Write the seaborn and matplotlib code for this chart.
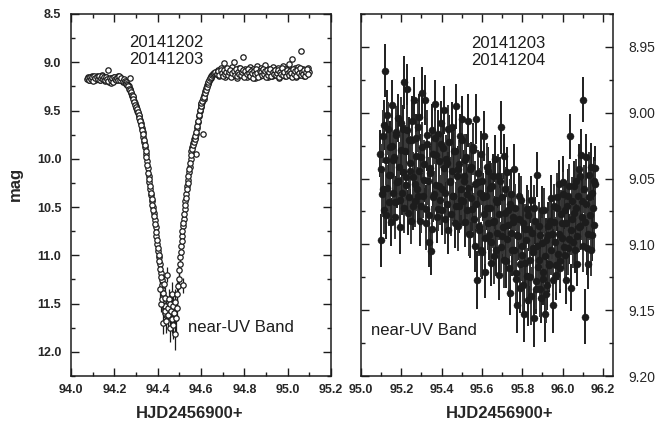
import matplotlib
matplotlib.use("Agg")
import matplotlib.pyplot as plt
from matplotlib.ticker import MultipleLocator, FormatStrFormatter
import seaborn as sns

# ---------------- left panel data (20141202/20141203) ----------------
pre_hjd = [94.075, 94.080, 94.085, 94.090, 94.095, 94.100, 94.105, 94.110, 94.115, 94.120,
           94.125, 94.130, 94.135, 94.140, 94.145, 94.150, 94.155, 94.160, 94.165, 94.170,
           94.175, 94.180, 94.185, 94.190, 94.195, 94.200, 94.205, 94.210, 94.215, 94.220,
           94.225, 94.230, 94.235, 94.240, 94.245]
pre_mag = [9.17, 9.15, 9.18, 9.16, 9.14, 9.17, 9.15, 9.18, 9.16, 9.14,
           9.17, 9.15, 9.18, 9.16, 9.13, 9.17, 9.19, 9.15, 9.18, 9.08,
           9.20, 9.17, 9.21, 9.16, 9.19, 9.15, 9.18, 9.16, 9.14, 9.17,
           9.15, 9.18, 9.17, 9.20, 9.19]
pre2_hjd = [94.078, 94.083, 94.088, 94.093, 94.098, 94.103, 94.108, 94.113, 94.118, 94.123,
            94.128, 94.133, 94.138, 94.143, 94.148, 94.153, 94.158, 94.163, 94.168, 94.173,
            94.178, 94.183, 94.188, 94.193, 94.198, 94.203, 94.208, 94.213, 94.218, 94.223,
            94.228, 94.233, 94.238, 94.243]
pre2_mag = [9.162, 9.181, 9.148, 9.173, 9.157, 9.189, 9.141, 9.168, 9.152, 9.177,
            9.146, 9.184, 9.163, 9.138, 9.171, 9.155, 9.186, 9.149, 9.176, 9.192,
            9.158, 9.183, 9.167, 9.204, 9.153, 9.174, 9.188, 9.161, 9.179, 9.147,
            9.185, 9.166, 9.193, 9.178]

desc_hjd = [94.250, 94.254, 94.258, 94.262, 94.266, 94.270, 94.272, 94.274, 94.278, 94.282,
            94.286, 94.290, 94.294, 94.298, 94.302, 94.306, 94.310, 94.314, 94.318, 94.322,
            94.326, 94.330, 94.334, 94.338, 94.342, 94.346, 94.350, 94.354, 94.358, 94.362,
            94.366, 94.370, 94.374, 94.378, 94.382, 94.386, 94.390, 94.394, 94.398, 94.402,
            94.406, 94.410, 94.414, 94.418, 94.422, 94.426, 94.430, 94.434, 94.438]
desc_mag = [9.19, 9.21, 9.22, 9.24, 9.25, 9.28, 9.16, 9.29, 9.32, 9.35,
            9.36, 9.40, 9.42, 9.45, 9.47, 9.50, 9.53, 9.56, 9.60, 9.63,
            9.68, 9.72, 9.77, 9.83, 9.88, 9.95, 10.02, 10.10, 10.18, 10.24,
            10.31, 10.38, 10.44, 10.50, 10.56, 10.63, 10.71, 10.80, 10.88, 10.96,
            11.02, 11.09, 11.18, 11.26, 11.35, 11.42, 11.50, 11.56, 11.62]
desc_err = [0.01, 0.01, 0.01, 0.01, 0.01, 0.01, 0.01, 0.01, 0.01, 0.01,
            0.01, 0.01, 0.01, 0.01, 0.01, 0.012, 0.012, 0.012, 0.012, 0.012,
            0.015, 0.015, 0.015, 0.015, 0.015, 0.018, 0.018, 0.02, 0.02, 0.02,
            0.022, 0.025, 0.025, 0.028, 0.03, 0.03, 0.032, 0.035, 0.04, 0.04,
            0.045, 0.05, 0.05, 0.055, 0.06, 0.065, 0.07, 0.075, 0.08]
desc2_hjd = [94.252, 94.256, 94.260, 94.264, 94.268, 94.272, 94.276, 94.280, 94.284, 94.288,
             94.292, 94.296, 94.300, 94.304, 94.308, 94.312, 94.316, 94.320, 94.324, 94.328,
             94.332, 94.336, 94.340, 94.344, 94.348, 94.352, 94.356, 94.360, 94.364, 94.368,
             94.372, 94.376, 94.380, 94.384, 94.388, 94.392, 94.396, 94.400, 94.404, 94.408,
             94.412, 94.416, 94.420, 94.424, 94.428, 94.432, 94.436]
desc2_mag = [9.205, 9.222, 9.238, 9.251, 9.272, 9.286, 9.312, 9.338, 9.352, 9.384,
             9.412, 9.438, 9.462, 9.488, 9.518, 9.548, 9.582, 9.612, 9.652, 9.702,
             9.748, 9.806, 9.858, 9.918, 9.986, 10.062, 10.142, 10.214, 10.278, 10.352,
             10.412, 10.476, 10.532, 10.594, 10.672, 10.758, 10.842, 10.922, 10.996, 11.062,
             11.142, 11.224, 11.312, 11.388, 11.462, 11.528, 11.594]

min_hjd = [94.412, 94.416, 94.420, 94.424, 94.428, 94.432, 94.436, 94.440, 94.443, 94.446,
           94.449, 94.452, 94.455, 94.458, 94.461, 94.464, 94.467, 94.470, 94.473, 94.476,
           94.479, 94.482, 94.485, 94.488, 94.491, 94.494, 94.497, 94.515]
min_mag = [11.35, 11.50, 11.45, 11.70, 11.30, 11.58, 11.44, 11.68, 11.20, 11.55,
           11.62, 11.45, 11.75, 11.50, 11.58, 11.40, 11.66, 11.52, 11.72, 11.60,
           11.82, 11.48, 11.65, 11.40, 11.55, 11.32, 11.25, 11.31]
min_err = [0.08, 0.09, 0.10, 0.12, 0.10, 0.12, 0.11, 0.12, 0.08, 0.12,
           0.14, 0.10, 0.15, 0.12, 0.13, 0.12, 0.14, 0.13, 0.15, 0.14,
           0.16, 0.13, 0.15, 0.12, 0.13, 0.10, 0.10, 0.08]

asc_hjd = [94.500, 94.504, 94.508, 94.512, 94.516, 94.520, 94.524, 94.528, 94.532, 94.536,
           94.540, 94.544, 94.548, 94.552, 94.556, 94.560, 94.564, 94.568, 94.572, 94.576,
           94.578, 94.582, 94.586, 94.590, 94.594, 94.598, 94.602, 94.606, 94.610, 94.612,
           94.616, 94.620, 94.624, 94.628, 94.632, 94.636, 94.640, 94.644, 94.648, 94.652,
           94.656, 94.660, 94.664, 94.668]
asc_mag = [11.15, 11.02, 10.90, 10.80, 10.70, 10.62, 10.52, 10.44, 10.36, 10.28,
           10.22, 10.14, 10.08, 10.00, 9.92, 9.88, 9.84, 9.80, 9.78, 9.95,
           9.74, 9.68, 9.62, 9.56, 9.50, 9.46, 9.43, 9.41, 9.74, 9.38,
           9.34, 9.30, 9.27, 9.24, 9.21, 9.19, 9.17, 9.16, 9.14, 9.13,
           9.12, 9.11, 9.11, 9.10]
asc_err = [0.08, 0.07, 0.065, 0.06, 0.055, 0.05, 0.045, 0.04, 0.04, 0.035,
           0.032, 0.03, 0.028, 0.025, 0.025, 0.022, 0.02, 0.02, 0.02, 0.02,
           0.018, 0.018, 0.016, 0.015, 0.015, 0.015, 0.015, 0.014, 0.014, 0.013,
           0.012, 0.012, 0.012, 0.012, 0.011, 0.011, 0.011, 0.01, 0.01, 0.01,
           0.01, 0.01, 0.01, 0.01]
asc2_hjd = [94.502, 94.506, 94.510, 94.514, 94.518, 94.522, 94.526, 94.530, 94.534, 94.538,
            94.542, 94.546, 94.550, 94.554, 94.558, 94.562, 94.566, 94.570, 94.574, 94.578,
            94.582, 94.586, 94.590, 94.594, 94.598, 94.602, 94.606, 94.610, 94.614, 94.618,
            94.622, 94.626, 94.630, 94.634, 94.638, 94.642, 94.646, 94.650, 94.654, 94.658,
            94.662, 94.666]
asc2_mag = [11.092, 10.964, 10.853, 10.748, 10.662, 10.574, 10.483, 10.402, 10.318, 10.252,
            10.183, 10.108, 10.041, 9.962, 9.903, 9.862, 9.824, 9.792, 9.763, 9.718,
            9.662, 9.604, 9.542, 9.493, 9.452, 9.421, 9.398, 9.372, 9.357, 9.318,
            9.286, 9.254, 9.226, 9.203, 9.181, 9.164, 9.152, 9.136, 9.124, 9.116,
            9.108, 9.104]

post_hjd = [94.672, 94.677, 94.682, 94.687, 94.692, 94.697, 94.702, 94.707, 94.712, 94.717,
            94.722, 94.727, 94.732, 94.737, 94.742, 94.747, 94.752, 94.757, 94.762, 94.767,
            94.772, 94.777, 94.782, 94.787, 94.792, 94.797, 94.802, 94.807, 94.812, 94.817,
            94.822, 94.827, 94.832, 94.837, 94.842, 94.847, 94.852, 94.857, 94.862, 94.867,
            94.872, 94.877, 94.882, 94.887, 94.892, 94.897, 94.902, 94.907, 94.912, 94.917,
            94.922, 94.927, 94.932, 94.937, 94.942, 94.947, 94.952, 94.957, 94.962, 94.967,
            94.972, 94.977, 94.982, 94.987, 94.992, 94.997, 95.002, 95.007, 95.012, 95.017,
            95.022, 95.027, 95.032, 95.037, 95.042, 95.047, 95.052, 95.057, 95.062, 95.067,
            95.072, 95.077, 95.082, 95.087, 95.092, 95.097]
post_mag = [9.12, 9.08, 9.14, 9.10, 9.06, 9.13, 9.09, 9.01, 9.15, 9.11,
            9.07, 9.12, 9.09, 9.14, 9.05, 9.11, 9.00, 9.13, 9.08, 9.16,
            9.10, 9.06, 9.12, 9.09, 8.95, 9.14, 9.07, 9.11, 9.15, 9.08,
            9.12, 9.05, 9.10, 9.13, 9.07, 9.16, 9.09, 9.04, 9.12, 9.10,
            9.14, 9.06, 9.11, 9.08, 9.13, 9.03, 9.10, 9.15, 9.07, 9.12,
            9.09, 9.14, 9.05, 9.11, 9.08, 9.13, 9.10, 9.06, 9.16, 9.09,
            9.12, 9.04, 9.10, 9.14, 9.07, 9.11, 9.09, 9.02, 9.13, 9.08,
            8.97, 9.12, 9.06, 9.15, 9.10, 9.05, 9.13, 9.08, 8.88, 9.11,
            9.07, 9.14, 9.09, 9.12, 9.06, 9.10]
post2_hjd = [94.675, 94.680, 94.685, 94.690, 94.695, 94.700, 94.705, 94.710, 94.715, 94.720,
             94.725, 94.730, 94.735, 94.740, 94.745, 94.750, 94.755, 94.760, 94.765, 94.770,
             94.775, 94.780, 94.785, 94.790, 94.795, 94.800, 94.805, 94.810, 94.815, 94.820,
             94.825, 94.830, 94.835, 94.840, 94.845, 94.850, 94.855, 94.860, 94.865, 94.870,
             94.875, 94.880, 94.885, 94.890, 94.895, 94.900, 94.905, 94.910, 94.915, 94.920,
             94.925, 94.930, 94.935, 94.940, 94.945, 94.950, 94.955, 94.960, 94.965, 94.970,
             94.975, 94.980, 94.985, 94.990, 94.995, 95.000, 95.005, 95.010, 95.015, 95.020,
             95.025, 95.030, 95.035, 95.040, 95.045, 95.050, 95.055, 95.060, 95.065, 95.070,
             95.075, 95.080, 95.085, 95.090, 95.095]
post2_mag = [9.118, 9.094, 9.132, 9.076, 9.109, 9.147, 9.083, 9.121, 9.098, 9.064,
             9.136, 9.103, 9.079, 9.154, 9.112, 9.087, 9.128, 9.069, 9.141, 9.096,
             9.117, 9.058, 9.133, 9.104, 9.081, 9.148, 9.092, 9.126, 9.073, 9.115,
             9.139, 9.086, 9.107, 9.161, 9.095, 9.124, 9.067, 9.113, 9.149, 9.088,
             9.102, 9.135, 9.074, 9.119, 9.091, 9.157, 9.083, 9.127, 9.106, 9.069,
             9.142, 9.098, 9.121, 9.077, 9.134, 9.109, 9.085, 9.152, 9.096, 9.118,
             9.063, 9.129, 9.101, 9.144, 9.079, 9.112, 9.137, 9.087, 9.108, 9.152,
             9.072, 9.123, 9.095, 9.141, 9.081, 9.116, 9.058, 9.132, 9.099, 9.126,
             9.084, 9.147, 9.106, 9.073, 9.118]

# ---------------- right panel data (20141203/20141204) ----------------
right_hjd = [95.095, 95.101, 95.107, 95.113, 95.119, 95.125, 95.131, 95.137, 95.143, 95.149,
             95.155, 95.161, 95.167, 95.173, 95.179, 95.185, 95.191, 95.197, 95.203, 95.209,
             95.215, 95.221, 95.227, 95.233, 95.239, 95.245, 95.251, 95.257, 95.263, 95.269,
             95.275, 95.281, 95.287, 95.293, 95.299, 95.305, 95.311, 95.317, 95.323, 95.329,
             95.335, 95.341, 95.347, 95.353, 95.359, 95.365, 95.371, 95.377, 95.383, 95.389,
             95.395, 95.401, 95.407, 95.413, 95.419, 95.425, 95.431, 95.437, 95.443, 95.449,
             95.455, 95.461, 95.467, 95.473, 95.479, 95.485, 95.491, 95.497, 95.503, 95.509,
             95.515, 95.521, 95.527, 95.533, 95.539, 95.545, 95.551, 95.557, 95.563, 95.569,
             95.575, 95.581, 95.587, 95.593, 95.599, 95.605, 95.611, 95.617, 95.623, 95.629,
             95.635, 95.641, 95.647, 95.653, 95.659, 95.665, 95.671, 95.677, 95.683, 95.689,
             95.695, 95.701, 95.707, 95.713, 95.719, 95.725, 95.731, 95.737, 95.743, 95.749,
             95.755, 95.761, 95.767, 95.773, 95.779, 95.785, 95.791, 95.797, 95.803, 95.809,
             95.815, 95.821, 95.827, 95.833, 95.839, 95.845, 95.851, 95.857, 95.863, 95.869,
             95.875, 95.881, 95.887, 95.893, 95.899, 95.905, 95.911, 95.917, 95.923, 95.929,
             95.935, 95.941, 95.947, 95.953, 95.959, 95.965, 95.971, 95.977, 95.983, 95.989,
             95.995, 96.001, 96.007, 96.013, 96.019, 96.025, 96.031, 96.037, 96.043, 96.049,
             96.055, 96.061, 96.067, 96.073, 96.079, 96.085, 96.091, 96.097, 96.103, 96.109,
             96.115, 96.121, 96.127, 96.133, 96.139, 96.145, 96.151, 96.157, 96.163]
right_mag = [9.031, 9.097, 9.058, 9.009, 8.968, 9.078, 9.002, 9.047, 9.026, 9.083,
             8.994, 9.036, 9.068, 9.017, 9.053, 9.004, 9.087, 9.028, 9.061, 9.012,
             8.977, 9.049, 8.982, 9.076, 9.021, 9.044, 9.006, 9.071, 8.990, 9.054,
             9.019, 9.063, 9.003, 9.082, 9.034, 8.985, 9.051, 8.990, 9.073, 9.024,
             9.098, 9.042, 9.105, 9.013, 9.064, 8.993, 9.032, 9.079, 9.016, 9.056,
             9.008, 9.074, 9.027, 8.998, 9.061, 9.038, 9.089, 9.022, 9.052, 9.011,
             9.063, 9.029, 9.084, 8.995, 9.043, 9.071, 9.018, 9.066, 9.005, 9.048,
             9.083, 9.034, 9.062, 9.006, 9.092, 9.041, 9.073, 9.026, 9.101, 9.005,
             9.127, 9.053, 9.086, 9.031, 9.106, 9.064, 9.018, 9.121, 9.072, 9.044,
             9.093, 9.057, 9.114, 9.048, 9.082, 9.035, 9.104, 9.068, 9.123, 9.052,
             9.011, 9.094, 9.033, 9.076, 9.113, 9.045, 9.085, 9.137, 9.062, 9.104,
             9.079, 9.043, 9.122, 9.146, 9.094, 9.063, 9.133, 9.101, 9.084, 9.153,
             9.114, 9.073, 9.142, 9.088, 9.125, 9.066, 9.103, 9.156, 9.082, 9.134,
             9.047, 9.112, 9.093, 9.141, 9.074, 9.126, 9.153, 9.097, 9.131, 9.086,
             9.116, 9.065, 9.092, 9.146, 9.083, 9.123, 9.072, 9.107, 9.054, 9.118,
             9.084, 9.053, 9.102, 9.074, 9.127, 9.063, 9.096, 9.018, 9.133, 9.081,
             9.056, 9.104, 9.072, 9.115, 9.043, 9.086, 9.032, 9.067, 8.990, 9.155,
             9.034, 9.103, 9.115, 9.064, 9.041, 9.093, 9.072, 9.052, 9.042]
right_err = [0.018, 0.020, 0.017, 0.019, 0.020, 0.018, 0.019, 0.017, 0.020, 0.018,
             0.019, 0.018, 0.020, 0.017, 0.019, 0.018, 0.020, 0.019, 0.017, 0.018,
             0.020, 0.018, 0.019, 0.017, 0.018, 0.020, 0.019, 0.018, 0.017, 0.019,
             0.018, 0.020, 0.017, 0.019, 0.018, 0.020, 0.017, 0.019, 0.018, 0.020,
             0.019, 0.017, 0.018, 0.020, 0.019, 0.018, 0.017, 0.020, 0.018, 0.019,
             0.017, 0.019, 0.020, 0.018, 0.017, 0.019, 0.018, 0.020, 0.017, 0.019,
             0.018, 0.020, 0.019, 0.017, 0.018, 0.020, 0.017, 0.019, 0.018, 0.020,
             0.019, 0.018, 0.017, 0.020, 0.018, 0.019, 0.017, 0.018, 0.020, 0.019,
             0.022, 0.018, 0.019, 0.017, 0.020, 0.018, 0.019, 0.020, 0.017, 0.018,
             0.019, 0.020, 0.018, 0.017, 0.019, 0.018, 0.020, 0.017, 0.019, 0.018,
             0.020, 0.019, 0.017, 0.018, 0.020, 0.019, 0.018, 0.017, 0.019, 0.020,
             0.018, 0.019, 0.020, 0.021, 0.018, 0.017, 0.019, 0.020, 0.018, 0.021,
             0.019, 0.018, 0.020, 0.017, 0.019, 0.018, 0.020, 0.022, 0.018, 0.019,
             0.017, 0.020, 0.018, 0.019, 0.018, 0.020, 0.021, 0.017, 0.019, 0.018,
             0.020, 0.018, 0.019, 0.021, 0.017, 0.019, 0.018, 0.020, 0.018, 0.019,
             0.018, 0.020, 0.017, 0.019, 0.018, 0.020, 0.019, 0.017, 0.018, 0.020,
             0.019, 0.018, 0.020, 0.017, 0.019, 0.018, 0.020, 0.019, 0.017, 0.021,
             0.018, 0.020, 0.019, 0.017, 0.018, 0.020, 0.019, 0.018, 0.017]
right2_hjd = [95.098, 95.104, 95.110, 95.116, 95.122, 95.128, 95.134, 95.140, 95.146, 95.152,
              95.158, 95.164, 95.170, 95.176, 95.182, 95.188, 95.194, 95.200, 95.206, 95.212,
              95.218, 95.224, 95.230, 95.236, 95.242, 95.248, 95.254, 95.260, 95.266, 95.272,
              95.278, 95.284, 95.290, 95.296, 95.302, 95.308, 95.314, 95.320, 95.326, 95.332,
              95.338, 95.344, 95.350, 95.356, 95.362, 95.368, 95.374, 95.380, 95.386, 95.392,
              95.398, 95.404, 95.410, 95.416, 95.422, 95.428, 95.434, 95.440, 95.446, 95.452,
              95.458, 95.464, 95.470, 95.476, 95.482, 95.488, 95.494, 95.500, 95.506, 95.512,
              95.518, 95.524, 95.530, 95.536, 95.542, 95.548, 95.554, 95.560, 95.566, 95.572,
              95.578, 95.584, 95.590, 95.596, 95.602, 95.608, 95.614, 95.620, 95.626, 95.632,
              95.638, 95.644, 95.650, 95.656, 95.662, 95.668, 95.674, 95.680, 95.686, 95.692,
              95.698, 95.704, 95.710, 95.716, 95.722, 95.728, 95.734, 95.740, 95.746, 95.752,
              95.758, 95.764, 95.770, 95.776, 95.782, 95.788, 95.794, 95.800, 95.806, 95.812,
              95.818, 95.824, 95.830, 95.836, 95.842, 95.848, 95.854, 95.860, 95.866, 95.872,
              95.878, 95.884, 95.890, 95.896, 95.902, 95.908, 95.914, 95.920, 95.926, 95.932,
              95.938, 95.944, 95.950, 95.956, 95.962, 95.968, 95.974, 95.980, 95.986, 95.992,
              95.998, 96.004, 96.010, 96.016, 96.022, 96.028, 96.034, 96.040, 96.046, 96.052,
              96.058, 96.064, 96.070, 96.076, 96.082, 96.088, 96.094, 96.100, 96.106, 96.112,
              96.118, 96.124, 96.130, 96.136, 96.142, 96.148, 96.154, 96.160]
right2_mag = [9.043, 9.062, 9.018, 9.074, 9.036, 9.057, 9.012, 9.068, 9.047, 9.025,
              9.061, 9.034, 9.079, 9.015, 9.052, 9.041, 9.066, 9.008, 9.045, 9.072,
              9.029, 9.055, 9.013, 9.064, 9.038, 9.082, 9.021, 9.049, 9.067, 9.033,
              9.058, 9.011, 9.044, 9.071, 9.026, 9.063, 9.039, 9.084, 9.017, 9.052,
              9.078, 9.046, 9.088, 9.031, 9.062, 9.019, 9.055, 9.073, 9.037, 9.066,
              9.024, 9.058, 9.042, 9.081, 9.035, 9.069, 9.012, 9.053, 9.077, 9.044,
              9.063, 9.029, 9.071, 9.048, 9.086, 9.039, 9.058, 9.021, 9.067, 9.052,
              9.036, 9.074, 9.057, 9.092, 9.043, 9.065, 9.028, 9.081, 9.054, 9.069,
              9.046, 9.089, 9.061, 9.104, 9.052, 9.077, 9.095, 9.063, 9.041, 9.084,
              9.072, 9.098, 9.056, 9.083, 9.109, 9.066, 9.091, 9.048, 9.077, 9.102,
              9.064, 9.087, 9.112, 9.058, 9.096, 9.074, 9.118, 9.069, 9.091, 9.083,
              9.104, 9.072, 9.126, 9.093, 9.081, 9.115, 9.066, 9.108, 9.131, 9.088,
              9.097, 9.124, 9.078, 9.112, 9.139, 9.091, 9.106, 9.072, 9.128, 9.101,
              9.117, 9.086, 9.134, 9.099, 9.121, 9.074, 9.109, 9.138, 9.093, 9.115,
              9.082, 9.104, 9.127, 9.071, 9.098, 9.116, 9.064, 9.092, 9.113, 9.077,
              9.095, 9.062, 9.108, 9.084, 9.071, 9.103, 9.056, 9.089, 9.067, 9.098,
              9.076, 9.052, 9.094, 9.063, 9.087, 9.048, 9.079, 9.101, 9.058, 9.083,
              9.069, 9.092, 9.047, 9.078, 9.104, 9.061, 9.085, 9.054]
right2_err = [0.019, 0.017, 0.020, 0.018, 0.019, 0.017, 0.020, 0.018, 0.019, 0.021,
              0.018, 0.019, 0.017, 0.020, 0.018, 0.019, 0.017, 0.020, 0.018, 0.019,
              0.020, 0.017, 0.019, 0.018, 0.020, 0.018, 0.017, 0.019, 0.020, 0.018,
              0.017, 0.019, 0.018, 0.020, 0.019, 0.017, 0.018, 0.020, 0.019, 0.018,
              0.020, 0.018, 0.017, 0.019, 0.018, 0.020, 0.019, 0.017, 0.018, 0.019,
              0.018, 0.020, 0.017, 0.019, 0.018, 0.020, 0.018, 0.019, 0.017, 0.020,
              0.019, 0.017, 0.018, 0.020, 0.019, 0.018, 0.020, 0.017, 0.019, 0.018,
              0.020, 0.019, 0.018, 0.017, 0.020, 0.018, 0.019, 0.020, 0.017, 0.019,
              0.018, 0.020, 0.019, 0.021, 0.018, 0.017, 0.020, 0.019, 0.018, 0.020,
              0.017, 0.019, 0.018, 0.020, 0.021, 0.018, 0.019, 0.017, 0.020, 0.019,
              0.018, 0.020, 0.021, 0.017, 0.019, 0.018, 0.022, 0.019, 0.018, 0.020,
              0.019, 0.018, 0.021, 0.020, 0.017, 0.019, 0.018, 0.020, 0.022, 0.019,
              0.018, 0.021, 0.019, 0.020, 0.022, 0.018, 0.019, 0.017, 0.021, 0.020,
              0.019, 0.018, 0.021, 0.019, 0.020, 0.017, 0.019, 0.022, 0.018, 0.020,
              0.018, 0.019, 0.021, 0.017, 0.019, 0.020, 0.018, 0.019, 0.021, 0.018,
              0.019, 0.017, 0.020, 0.018, 0.019, 0.020, 0.017, 0.019, 0.018, 0.020,
              0.019, 0.017, 0.020, 0.018, 0.019, 0.017, 0.018, 0.020, 0.018, 0.019,
              0.018, 0.020, 0.017, 0.019, 0.020, 0.018, 0.019, 0.017]

left_xticks = [94.0, 94.2, 94.4, 94.6, 94.8, 95.0, 95.2]
left_yticks = [8.5, 9.0, 9.5, 10.0, 10.5, 11.0, 11.5, 12.0]
right_xticks = [95.0, 95.2, 95.4, 95.6, 95.8, 96.0, 96.2]
right_yticks = [8.95, 9.00, 9.05, 9.10, 9.15, 9.20]

# ---------------- style ----------------
sns.set_style("ticks")
plt.rcParams["font.family"] = ["Liberation Sans", "DejaVu Sans"]
plt.rcParams["axes.linewidth"] = 1.1
plt.rcParams["xtick.direction"] = "in"
plt.rcParams["ytick.direction"] = "in"

fig = plt.figure(figsize=(6.57, 4.32), dpi=100)
axL = fig.add_axes([71 / 657, 1 - 376 / 432, 260 / 657, 362 / 432])
axR = fig.add_axes([361 / 657, 1 - 376 / 432, 252 / 657, 362 / 432])

INK = "#1c1c1c"

# left: error bars then open circles
for hx, hm, he in [(desc_hjd, desc_mag, desc_err), (min_hjd, min_mag, min_err),
                   (asc_hjd, asc_mag, asc_err)]:
    axL.errorbar(hx, hm, yerr=he, fmt="none", ecolor=INK, elinewidth=0.9, zorder=1)
for hx, hm in [(pre_hjd, pre_mag), (pre2_hjd, pre2_mag), (desc_hjd, desc_mag),
               (desc2_hjd, desc2_mag), (min_hjd, min_mag), (asc_hjd, asc_mag),
               (asc2_hjd, asc2_mag), (post_hjd, post_mag), (post2_hjd, post2_mag)]:
    sns.scatterplot(x=hx, y=hm, ax=axL, marker="o", s=15, color="white",
                    edgecolor=INK, linewidth=0.9, zorder=2)

# right: error bars then filled circles
axR.errorbar(right_hjd, right_mag, yerr=right_err, fmt="none", ecolor="#1e1e1e",
             elinewidth=1.4, zorder=1)
axR.errorbar(right2_hjd, right2_mag, yerr=right2_err, fmt="none", ecolor="#363636",
             elinewidth=1.4, zorder=1)
for hx, hm in [(right2_hjd, right2_mag), (right_hjd, right_mag)]:
    sns.scatterplot(x=hx, y=hm, ax=axR, marker="o", s=26, color=INK,
                    edgecolor=INK, linewidth=0.3, zorder=2)

# axes limits & ticks
axL.set_xlim(94.0, 95.2)
axL.set_ylim(12.25, 8.5)
axR.set_xlim(95.0, 96.25)
axR.set_ylim(9.20, 8.925)

for ax, xt, yt, yfmt, ymin in [(axL, left_xticks, left_yticks, "%.1f", 0.25),
                               (axR, right_xticks, right_yticks, "%.2f", 0.025)]:
    ax.set_xticks(xt)
    ax.set_yticks(yt)
    ax.xaxis.set_major_formatter(FormatStrFormatter("%.1f"))
    ax.yaxis.set_major_formatter(FormatStrFormatter(yfmt))
    ax.xaxis.set_minor_locator(MultipleLocator(0.1))
    ax.yaxis.set_minor_locator(MultipleLocator(ymin))
    ax.tick_params(which="major", length=6, width=1.0, top=True, right=True, color=INK)
    ax.tick_params(which="minor", length=3, width=1.0, top=True, right=True, color=INK)
    for lab in ax.get_xticklabels() + ax.get_yticklabels():
        lab.set_fontsize(9)
        lab.set_fontweight("bold")
    for sp in ax.spines.values():
        sp.set_visible(True)
        sp.set_color(INK)

axL.tick_params(axis="y", which="both", labelleft=True, labelright=False, pad=7)
axL.tick_params(axis="x", which="both", pad=6)
axR.tick_params(axis="y", which="both", labelleft=False, labelright=True, pad=11)
axR.tick_params(axis="x", which="both", pad=6)

axL.set_xlabel("HJD2456900+", fontsize=12, fontweight="bold")
axR.set_xlabel("HJD2456900+", fontsize=12, fontweight="bold")
axL.xaxis.set_label_coords(0.458, -0.083)
axR.xaxis.set_label_coords(0.552, -0.083)
axL.set_ylabel("mag", fontsize=12, fontweight="bold")
axL.yaxis.set_label_coords(-0.185, 0.53)
axR.set_ylabel("")

axL.text(0.365, 0.897, "20141202\n20141203", transform=axL.transAxes, ha="center",
         va="center", fontsize=12, color=INK, linespacing=1.2)
axL.text(0.45, 0.133, "near-UV Band", transform=axL.transAxes, ha="left",
         va="center", fontsize=12, color=INK)
axR.text(0.585, 0.895, "20141203\n20141204", transform=axR.transAxes, ha="center",
         va="center", fontsize=12, color=INK, linespacing=1.2)
axR.text(0.04, 0.127, "near-UV Band", transform=axR.transAxes, ha="left",
         va="center", fontsize=12, color=INK)

fig.savefig("out.png", dpi=100)
